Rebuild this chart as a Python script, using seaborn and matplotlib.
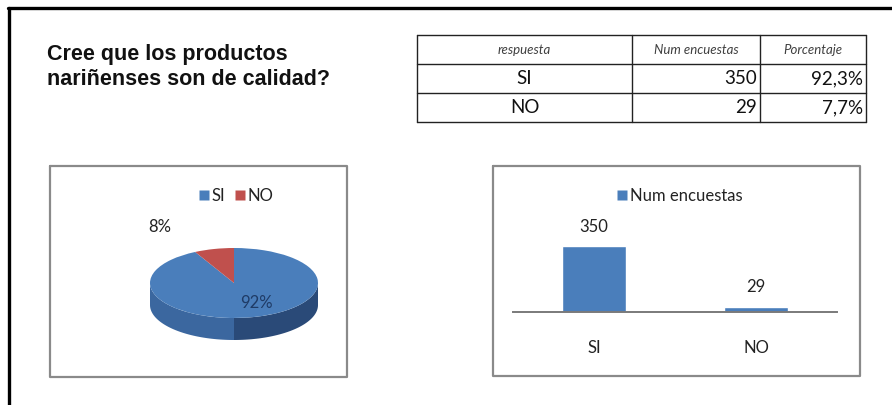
import numpy as np
import matplotlib
matplotlib.use("Agg")
import matplotlib.pyplot as plt
from matplotlib.lines import Line2D
from matplotlib.patches import Polygon
import seaborn as sns
import pandas as pd

# --- data -------------------------------------------------------------
title_lines = ["Cree que los productos", "nariñenses son de calidad?"]
respuesta = ["SI", "NO"]
num_encuestas = [350, 29]
header = ["respuesta", "Num encuestas", "Porcentaje"]
series_name = "Num encuestas"

total = sum(num_encuestas)
porcentaje = [100.0 * n / total for n in num_encuestas]

# --- style ------------------------------------------------------------
sns.set_theme(style="white")
plt.rcParams["font.family"] = ["Lato", "DejaVu Sans"]

BLUE = "#4a7ebb"
RED = "#c0504d"
SIDE_L = "#3b679f"
SIDE_R = "#2a4a78"
BOX = "#8a8a8a"

W, H = 892, 405
fig = plt.figure(figsize=(W / 100, H / 100), dpi=100)
fig.patch.set_facecolor("white")


def fx(x):
    return x / W


def fy(y):
    return 1 - y / H


def box_axes(left, top, right, bottom):
    return fig.add_axes([fx(left), fy(bottom), (right - left) / W, (bottom - top) / H])


def fig_line(xs, ys, **kw):
    fig.add_artist(Line2D([fx(x) for x in xs], [fy(y) for y in ys],
                          transform=fig.transFigure, **kw))


# outer frame (left and top edges)
fig_line([9, 9], [8, 405], color="black", lw=2.4)
fig_line([8, 892], [8, 8], color="black", lw=2.4)

# title
for i, line in enumerate(title_lines):
    fig.text(fx(47), fy(60 + i * 25), line, fontsize=15.5, fontweight="bold",
             family=["Liberation Sans", "DejaVu Sans"], color="#111111",
             ha="left", va="baseline")

# --- summary table ----------------------------------------------------
cols = [417, 632, 760, 866]
rows = [35, 64, 93, 122]
for x in cols:
    fig_line([x, x], [rows[0], rows[-1]], color="#222222", lw=1.0)
for y in rows:
    fig_line([cols[0], cols[-1]], [y, y], color="#222222", lw=1.0)

for j, h in enumerate(header):
    fig.text(fx((cols[j] + cols[j + 1]) / 2), fy((rows[0] + rows[1]) / 2), h,
             fontsize=9.5, style="italic", color="#404040", ha="center", va="center")
for i, (r, n, p) in enumerate(zip(respuesta, num_encuestas, porcentaje)):
    yc = fy((rows[i + 1] + rows[i + 2]) / 2)
    fig.text(fx((cols[0] + cols[1]) / 2), yc, r, fontsize=13.5, color="#111111",
             ha="center", va="center")
    fig.text(fx(cols[2] - 3), yc, f"{n}", fontsize=13.5, color="#111111",
             ha="right", va="center")
    fig.text(fx(cols[3] - 3), yc, f"{p:.1f}%".replace(".", ","), fontsize=13.5,
             color="#111111", ha="right", va="center")

# --- panel frames -------------------------------------------------------
for (l, t, r, b) in [(50, 166, 347, 377), (493, 166, 860, 376)]:
    fig_line([l, r, r, l, l], [t, t, b, b, t], color=BOX, lw=1.6)

# --- 3D-looking pie -----------------------------------------------------
cx, cy, rx, ry = 234, 283, 84, 35
depth = 22 / ry
axp = box_axes(cx - 110, 232, cx + 110, 352)
axp.axis("off")

# cylinder side, front half only
th_l = np.linspace(np.pi, 1.5 * np.pi, 60)
th_r = np.linspace(1.5 * np.pi, 2 * np.pi, 60)
for th, col in [(th_l, SIDE_L), (th_r, SIDE_R)]:
    top = np.column_stack([np.cos(th), np.sin(th)])
    bot = np.column_stack([np.cos(th[::-1]), np.sin(th[::-1]) - depth])
    axp.add_patch(Polygon(np.vstack([top, bot]), closed=True, fc=col, ec="none"))

wedges, _ = axp.pie(num_encuestas, colors=[BLUE, RED], startangle=90,
                    counterclock=False, radius=1.0,
                    wedgeprops=dict(linewidth=0))
axp.set_aspect("auto")
axp.set_xlim(-110 / rx, 110 / rx)
axp.set_ylim(-(352 - cy) / ry, (cy - 232) / ry)

pie_pct = [f"{p:.0f}%" for p in porcentaje]
axp.text((256 - cx) / rx, (cy - 303) / ry, pie_pct[0], fontsize=12,
         color="#1f3b66", ha="center", va="center")
axp.text((160 - cx) / rx, (cy - 227) / ry, pie_pct[1], fontsize=12,
         color="#222222", ha="center", va="center")

pie_handles = [Line2D([], [], marker="s", ls="none", markersize=7,
                      markerfacecolor=c, markeredgecolor="none") for c in (BLUE, RED)]
fig.legend(pie_handles, respuesta, loc="center",
           bbox_to_anchor=(fx(236), fy(196)), ncol=2, frameon=False,
           fontsize=12, handlelength=0.6, handletextpad=0.15,
           columnspacing=0.6, labelcolor="#222222")

# --- bar chart ------------------------------------------------------------
df = pd.DataFrame({"respuesta": respuesta, "num": num_encuestas})
axb = box_axes(513, 212, 837, 312)
sns.barplot(data=df, x="respuesta", y="num", color=BLUE, width=0.4,
            saturation=1, ax=axb)
axb.set_ylim(0, 350 * 100 / 66)
axb.set_xlim(-0.5, 1.5)
axb.set_xlabel("")
axb.set_ylabel("")
axb.set_yticks([])
axb.patch.set_alpha(0)
for s in ("top", "left", "right"):
    axb.spines[s].set_visible(False)
axb.spines["bottom"].set_color("#7a7a7a")
axb.spines["bottom"].set_linewidth(1.4)
axb.tick_params(axis="x", length=0, pad=20, labelsize=12, labelcolor="#222222")
for c in axb.containers:
    axb.bar_label(c, labels=[f"{v}" for v in num_encuestas], padding=8,
                  fontsize=12, color="#222222")

bar_handle = [Line2D([], [], marker="s", ls="none", markersize=7,
                     markerfacecolor=BLUE, markeredgecolor="none")]
fig.legend(bar_handle, [series_name], loc="center",
           bbox_to_anchor=(fx(680), fy(196)), frameon=False, fontsize=12,
           handlelength=0.6, handletextpad=0.15, labelcolor="#222222")

fig.savefig("out.png", dpi=100, facecolor="white")
